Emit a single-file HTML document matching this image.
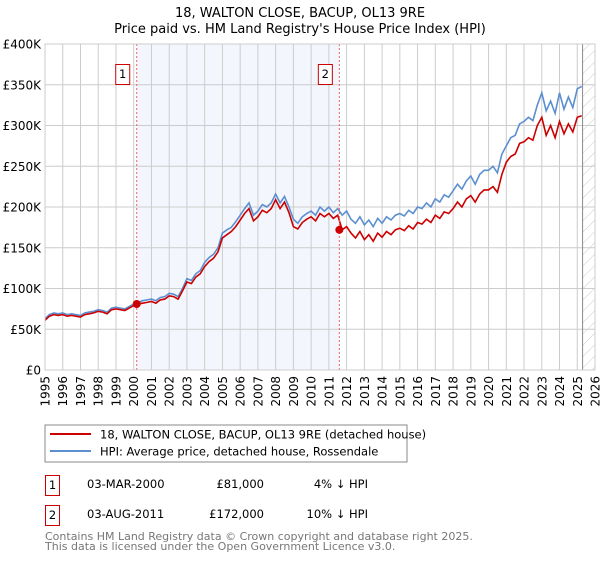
<!DOCTYPE html>
<html><head><meta charset="utf-8"><style>
body{margin:0;background:#fff;font-family:"DejaVu Sans","Liberation Sans",sans-serif}
svg text{font-family:"DejaVu Sans","Liberation Sans",sans-serif}
</style></head><body>
<svg id="c" width="600" height="560" xmlns="http://www.w3.org/2000/svg">
<defs><pattern id="hatch" width="8" height="8" patternUnits="userSpaceOnUse" patternTransform="rotate(45)"><line x1="0" y1="0" x2="0" y2="8" stroke="#ccc" stroke-width="1"/></pattern></defs>
<text x="300" y="17" text-anchor="middle" font-size="13" fill="#000">18, WALTON CLOSE, BACUP, OL13 9RE</text>
<text x="300" y="33" text-anchor="middle" font-size="13" fill="#000">Price paid vs. HM Land Registry's House Price Index (HPI)</text>
<g id="plot"></g>
<rect x="45" y="425" width="362" height="37" fill="#fff" stroke="#888"/>
<line x1="50" y1="434" x2="91" y2="434" stroke="#cc0000" stroke-width="2"/>
<text x="100" y="438.5" font-size="11.5">18, WALTON CLOSE, BACUP, OL13 9RE (detached house)</text>
<line x1="50" y1="451" x2="91" y2="451" stroke="#5b8fd0" stroke-width="2"/>
<text x="100" y="455.5" font-size="11.5">HPI: Average price, detached house, Rossendale</text>
<g font-size="11.5" fill="#000">
<rect x="45.5" y="475.5" width="14" height="20" fill="#fff" stroke="#cc0000"/>
<text x="52.5" y="489" text-anchor="middle">1</text>
<text x="87" y="488">03-MAR-2000</text>
<text x="264" y="488" text-anchor="end">£81,000</text>
<text x="368" y="488" text-anchor="end">4% ↓ HPI</text>
<rect x="45.5" y="505.5" width="14" height="20" fill="#fff" stroke="#cc0000"/>
<text x="52.5" y="519" text-anchor="middle">2</text>
<text x="87" y="518">03-AUG-2011</text>
<text x="264" y="518" text-anchor="end">£172,000</text>
<text x="368" y="518" text-anchor="end">10% ↓ HPI</text>
</g>
<text x="45" y="540" font-size="11" fill="#777">Contains HM Land Registry data © Crown copyright and database right 2025.</text>
<text x="45" y="550" font-size="11" fill="#777">This data is licensed under the Open Government Licence v3.0.</text>
</svg>
<script>
const yTicks=[0,50,100,150,200,250,300,350,400];
const yTickLabels=["£0","£50K","£100K","£150K","£200K","£250K","£300K","£350K","£400K"];
const years=[1995,1996,1997,1998,1999,2000,2001,2002,2003,2004,2005,2006,2007,2008,2009,2010,2011,2012,2013,2014,2015,2016,2017,2018,2019,2020,2021,2022,2023,2024,2025,2026];
const startYear=1995, step=0.25;
const hpi=[63,68,70,69,70,68,69,68,67,70,71,72,74,73,71,76,77,76,75,78,81,83,85,86,87,85,89,90,94,93,90,100,112,110,118,122,132,138,142,150,168,172,175,182,190,198,205,190,195,203,200,205,216,205,213,200,185,180,188,192,195,190,200,195,200,193,198,190,195,185,180,188,178,184,176,186,180,188,184,190,192,189,196,192,200,198,205,200,210,206,215,212,220,228,222,232,238,228,240,245,245,250,242,265,275,285,288,302,305,310,306,325,340,318,330,315,340,320,335,322,345,348];
const price=[61,66,68,67,68,66,67,66,65,68,69,70,72,71,69,74,75,74,73,76,79,81,82,83,84,82,86,87,91,90,87,97,108,106,114,118,127,133,137,145,162,166,170,176,184,192,198,183,188,196,193,198,209,198,206,193,176,173,181,185,188,183,192,188,192,186,190,172,176,168,162,170,160,166,158,168,163,170,166,172,174,171,177,173,181,179,185,181,190,186,194,192,198,206,200,210,214,206,216,221,221,225,218,240,255,262,265,278,280,285,282,300,310,288,300,285,305,290,302,292,310,312];
const saleDates=[2000.17,2011.59];
const saleValues=[81,172];
const saleLabels=["1","2"];
const hatchStart=2025.3;
const X0=45,X1=595,Y0=370,Y1=44;
const x=t=>X0+(t-1995)/(2026-1995)*(X1-X0);
const y=v=>Y0-v/400*(Y0-Y1);
const NS="http://www.w3.org/2000/svg";
const g=document.getElementById('plot');
function mk(tag,attrs){const e=document.createElementNS(NS,tag);for(const k in attrs)e.setAttribute(k,attrs[k]);g.appendChild(e);return e;}
let e;
e=mk('rect',{x:x(saleDates[0]),y:Y1,width:x(saleDates[1])-x(saleDates[0]),height:Y0-Y1,fill:'#eef3fc',opacity:0.7});


e=mk('rect',{x:x(hatchStart),y:Y1,width:X1-x(hatchStart),height:Y0-Y1,fill:'url(#hatch)'});


yTicks.forEach((v,i)=>{
 e=mk('line',{x1:X0,x2:X1,y1:y(v),y2:y(v),stroke:'#ccc'});
 
 
 e=mk('text',{x:X0-4,y:y(v)+4.5,'text-anchor':'end','font-size':12});
 e.textContent=yTickLabels[i];
 
 
});
years.forEach(yr=>{
 e=mk('line',{x1:x(yr),x2:x(yr),y1:Y1,y2:Y0,stroke:'#ccc'});
 
 
 e=mk('text',{x:0,y:0,'text-anchor':'end','font-size':12,transform:`translate(${x(yr)+4.5},${Y0+6}) rotate(-90)`});
 e.textContent=yr;
 
 
});
e=mk('line',{x1:x(hatchStart),x2:x(hatchStart),y1:Y1,y2:Y0,stroke:'#888','stroke-width':1});


function pts(arr){return arr.map((v,i)=>x(startYear+i*step).toFixed(1)+','+y(v).toFixed(1)).join(' ');}
e=mk('polyline',{points:pts(hpi),fill:'none',stroke:'#5b8fd0','stroke-width':1.6});


e=mk('polyline',{points:pts(price),fill:'none',stroke:'#cc0000','stroke-width':1.6});


saleDates.forEach((d,i)=>{
 e=mk('line',{x1:x(d),x2:x(d),y1:Y1,y2:Y0,stroke:'#f06060','stroke-dasharray':'2,2'});
 
 
 e=mk('circle',{cx:x(d),cy:y(saleValues[i]),r:4,fill:'#cc0000'});
 
 
 e=mk('rect',{x:x(d)-21,y:64.5,width:14,height:20,fill:'#fff',stroke:'#cc0000'});
 
 
 e=mk('text',{x:x(d)-14,y:78,'text-anchor':'middle','font-size':11.5});
 e.textContent=saleLabels[i];
 
 
});
e=mk('rect',{x:X0,y:Y1,width:X1-X0,height:Y0-Y1,fill:'none',stroke:'#ccc'});


</script>
</body></html>
